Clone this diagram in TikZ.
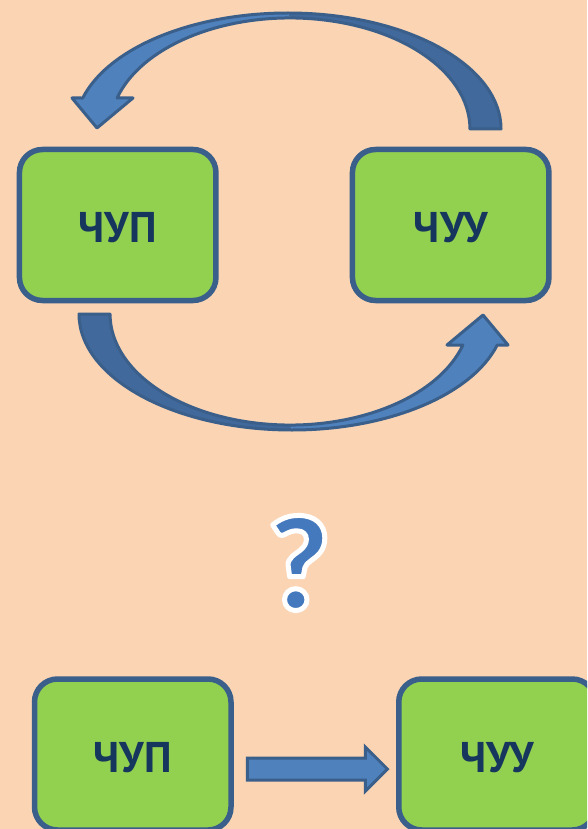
\documentclass[tikz,border=0pt]{standalone}
\usepackage{fontspec}
\setmainfont{PT Sans}
\newfontfamily\heavyfont{Lato Black}
\usepackage{tikz}
\usetikzlibrary{shapes.arrows}
\definecolor{peach}{HTML}{FBD4B4}
\definecolor{boxgreen}{HTML}{92D050}
\definecolor{boxline}{HTML}{3A5F8B}
\definecolor{textnavy}{HTML}{17365D}
\definecolor{arrowlight}{HTML}{4F81BD}
\definecolor{arrowdark}{HTML}{41699B}
\definecolor{qblue}{HTML}{4479BD}
\tikzstyle{stage}=[rectangle, rounded corners=23pt, draw=boxline, line width=5.5pt, fill=boxgreen, minimum width=196.5pt, minimum height=151pt, text=textnavy, text height=35pt, text depth=0pt, font=\fontsize{43}{50}\selectfont\bfseries]
\tikzstyle{bandlight}=[fill=arrowlight]
\tikzstyle{banddark}=[fill=arrowdark]
\tikzstyle{bandline}=[draw=boxline, line width=3pt, line join=round]
\tikzstyle{flatarrow}=[single arrow, draw=boxline, fill=arrowlight, line width=3pt, minimum height=140pt, minimum width=41pt, inner sep=9.5pt, single arrow head extend=11pt]
\tikzstyle{qmark}=[inner sep=0pt, text=qblue, font=\fontsize{128}{132}\selectfont\heavyfont]
% white rim round a glyph (fill + stroke)
\newcommand{\rimmed}[1]{\special{pdf:literal direct 1 1 1 RG 5 w 1 j 2 Tr}#1\special{pdf:literal direct 0 Tr}}
% curved block arrow, tail on the right, head on the left
\newcommand{\loopband}{%
  \path[banddark] (501,129) arc[start angle=0, end angle=-90, x radius=213, y radius=116]
    -- (290,18) arc[start angle=-90, end angle=0, x radius=180, y radius=111] -- cycle;
  \path[bandlight] (288,13) arc[start angle=-90, end angle=-164.5, x radius=213, y radius=116]
    -- (72,98) -- (97,128) -- (133,98) -- (117.1,98)
    arc[start angle=-163.8, end angle=-90, x radius=180, y radius=111] -- cycle;
  \path[bandline] (501,129) arc[start angle=0, end angle=-164.5, x radius=213, y radius=116]
    -- (72,98) -- (97,128) -- (133,98) -- (117.1,98)
    arc[start angle=-163.8, end angle=0, x radius=180, y radius=111] -- cycle;}

\begin{document}
\begin{tikzpicture}[x=1pt, y=-1pt]
	\useasboundingbox (0,0) rectangle (587,829);
	\fill[peach] (0,0) rectangle (587,829);
	\clip (0,0) rectangle (587,829);
	% cycle
	\begin{scope}
		\loopband
	\end{scope}
	\begin{scope}[rotate around={180:(290,221.5)}]
		\loopband
	\end{scope}
	\begin{scope}
		\node (chup) at (117.7,225) [stage] {ЧУП};
		\node (chuu) at (450.7,225) [stage] {ЧУУ};
	\end{scope}
	% question
	\node (query) at (299,563) [qmark] {\rimmed{?}};
	% straight line
	\begin{scope}
		\node (chup2) at (132.75,754.5) [stage] {ЧУП};
		\node (chuu2) at (497,754.5) [stage] {ЧУУ};
		\path (chup2) -- (chuu2) node[midway, flatarrow, xshift=-3pt, yshift=-14.5pt] (link) {};
	\end{scope}
\end{tikzpicture}
\end{document}
